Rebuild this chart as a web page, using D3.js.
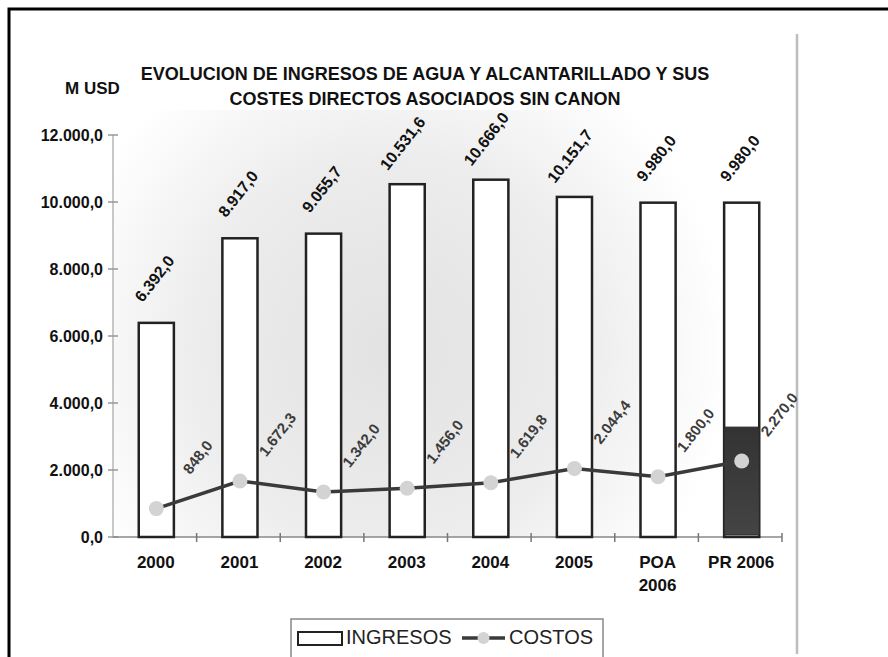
<!DOCTYPE html>
<html><head><meta charset="utf-8">
<script src="https://cdn.jsdelivr.net/npm/d3@7"></script>
<style>body{margin:0;background:#fff;}svg{display:block;}</style>
</head><body>
<svg id="c" width="888" height="657"></svg>
<script>
const categories = ["2000","2001","2002","2003","2004","2005","POA 2006","PR 2006"];
const categoryLines = [["2000"],["2001"],["2002"],["2003"],["2004"],["2005"],["POA","2006"],["PR 2006"]];
const ingresos = [6392.0, 8917.0, 9055.7, 10531.6, 10666.0, 10151.7, 9980.0, 9980.0];
const costos = [848.0, 1672.3, 1342.0, 1456.0, 1619.8, 2044.4, 1800.0, 2270.0];
const highlight = [null, null, null, null, null, null, null, 3280];
const yTicks = [0, 2000, 4000, 6000, 8000, 10000, 12000];
const titleLines = ["EVOLUCION DE INGRESOS DE AGUA Y ALCANTARILLADO Y SUS", "COSTES DIRECTOS ASOCIADOS SIN CANON"];
const unitLabel = "M USD";
const legendLabels = ["INGRESOS", "COSTOS"];

const loc = d3.formatLocale({decimal: ",", thousands: ".", grouping: [3], currency: ["", ""]});
const fmt = loc.format(",.1f");

const svg = d3.select("#c");
const FONT = "'Liberation Sans', Arial, sans-serif";

// background gradient
const defs = svg.append("defs");
const rg = defs.append("radialGradient").attr("id", "bg")
  .attr("gradientUnits", "userSpaceOnUse").attr("cx", 390).attr("cy", 350).attr("r", 340);
rg.append("stop").attr("offset", "0").attr("stop-color", "#e2e2e2");
rg.append("stop").attr("offset", "0.55").attr("stop-color", "#ececec");
rg.append("stop").attr("offset", "1").attr("stop-color", "#ffffff");
const dg = defs.append("linearGradient").attr("id", "dark").attr("x1", 0).attr("x2", 0).attr("y1", 0).attr("y2", 1);
dg.append("stop").attr("offset", "0").attr("stop-color", "#333");
dg.append("stop").attr("offset", "1").attr("stop-color", "#444");

svg.append("rect").attr("x", 113).attr("y", 110).attr("width", 684).attr("height", 427).attr("fill", "url(#bg)");

// outer frame
svg.append("rect").attr("x", 9).attr("y", 9).attr("width", 950).attr("height", 700)
  .attr("fill", "none").attr("stroke", "#000").attr("stroke-width", 3);
// right grey divider
svg.append("line").attr("x1", 797).attr("x2", 797).attr("y1", 34).attr("y2", 654)
  .attr("stroke", "#bdbdbd").attr("stroke-width", 2.5);

const x = d3.scaleBand().domain(categories).range([113, 782]).paddingInner(0.58).paddingOuter(0.29);
const y = d3.scaleLinear().domain([0, 12000]).range([537, 135]);

// Y axis
const yAxis = svg.append("g");
yAxis.append("line").attr("x1", 113).attr("x2", 113).attr("y1", y(12000)).attr("y2", y(0))
  .attr("stroke", "#c8c8c8").attr("stroke-width", 2);
yAxis.selectAll("line.t").data(yTicks).join("line").attr("class", "t")
  .attr("x1", 108).attr("x2", 118).attr("y1", d => y(d)).attr("y2", d => y(d))
  .attr("stroke", "#999").attr("stroke-width", 1.5);
yAxis.selectAll("text").data(yTicks).join("text")
  .attr("x", 103).attr("y", d => y(d)).attr("dy", "0.36em").attr("text-anchor", "end")
  .attr("font-family", FONT).attr("font-weight", "bold").attr("font-size", 16).attr("fill", "#111")
  .text(d => fmt(d));

// X axis
const step = x.step();
const bounds = categories.map((c, i) => 113 + step * (i + 1));
svg.append("line").attr("x1", 113).attr("x2", 782).attr("y1", y(0)).attr("y2", y(0))
  .attr("stroke", "#888").attr("stroke-width", 1.5);
svg.selectAll("line.xt").data(bounds).join("line").attr("class", "xt")
  .attr("x1", d => d).attr("x2", d => d).attr("y1", y(0) - 4).attr("y2", y(0) + 5)
  .attr("stroke", "#777").attr("stroke-width", 1.5);
const xl = svg.selectAll("text.xl").data(categories).join("text").attr("class", "xl")
  .attr("x", d => x(d) + x.bandwidth() / 2 + 1).attr("y", 568)
  .attr("text-anchor", "middle").attr("font-family", FONT).attr("font-weight", "bold")
  .attr("font-size", 17).attr("fill", "#111");
xl.each(function(d, i) {
  d3.select(this).selectAll("tspan").data(categoryLines[i]).join("tspan")
    .attr("x", x(d) + x.bandwidth() / 2 + 1).attr("dy", (t, j) => j === 0 ? 0 : 23).text(t => t);
});

// bars
const bw = x.bandwidth();
svg.selectAll("rect.bar").data(ingresos).join("rect").attr("class", "bar")
  .attr("x", (d, i) => x(categories[i]) + 1.5).attr("y", d => y(d))
  .attr("width", bw).attr("height", d => y(0) - y(d))
  .attr("fill", "#fff").attr("stroke", "#222").attr("stroke-width", 2.5);
svg.selectAll("rect.hl").data(highlight.map((v, i) => ({v, i})).filter(d => d.v != null)).join("rect").attr("class", "hl")
  .attr("x", d => x(categories[d.i]) + 1.5).attr("y", d => y(d.v))
  .attr("width", bw).attr("height", d => y(0) - y(d.v) - 2)
  .attr("fill", "url(#dark)").attr("stroke", "#2a2a2a").attr("stroke-width", 1);

// bar labels
svg.selectAll("text.bl").data(ingresos).join("text").attr("class", "bl")
  .attr("transform", (d, i) => `translate(${x(categories[i]) + 1.5 + bw / 2 + 19},${y(d) - 62}) rotate(-52)`)
  .attr("text-anchor", "end").attr("font-family", FONT).attr("font-weight", "bold")
  .attr("font-size", 16).attr("fill", "#111").text(d => fmt(d));

// line
const cx = i => x(categories[i]) + 1.5 + bw / 2;
const line = d3.line().x((d, i) => cx(i)).y(d => y(d));
svg.append("path").datum(costos).attr("d", line).attr("fill", "none")
  .attr("stroke", "#3a3a3a").attr("stroke-width", 3.5);
svg.selectAll("circle.pt").data(costos).join("circle").attr("class", "pt")
  .attr("cx", (d, i) => cx(i)).attr("cy", d => y(d)).attr("r", 7.5)
  .attr("fill", "#d3d3d3");
svg.selectAll("text.ll").data(costos).join("text").attr("class", "ll")
  .attr("transform", (d, i) => `translate(${cx(i) + 57},${y(d) - 63}) rotate(-52)`)
  .attr("text-anchor", "end").attr("font-family", FONT).attr("font-weight", "bold")
  .attr("font-size", 15).attr("fill", "#3c3c3c").text(d => fmt(d));

// title
svg.selectAll("text.title").data(titleLines).join("text").attr("class", "title")
  .attr("x", 425).attr("y", (d, i) => 80 + i * 25).attr("text-anchor", "middle")
  .attr("font-family", FONT).attr("font-weight", "bold").attr("font-size", 18).attr("fill", "#111")
  .text(d => d);
svg.append("text").attr("x", 65).attr("y", 94).attr("font-family", FONT).attr("font-weight", "bold")
  .attr("font-size", 17).attr("fill", "#111").text(unitLabel);

// legend
const lg = svg.append("g");
lg.append("rect").attr("x", 291).attr("y", 619).attr("width", 312).attr("height", 60)
  .attr("fill", "#fff").attr("stroke", "#888").attr("stroke-width", 1.5);
lg.append("rect").attr("x", 298).attr("y", 632).attr("width", 44).attr("height", 13)
  .attr("fill", "#fff").attr("stroke", "#222").attr("stroke-width", 2);
lg.append("text").attr("x", 346).attr("y", 644).attr("font-family", FONT).attr("font-size", 20)
  .attr("fill", "#222").text(legendLabels[0]);
lg.append("line").attr("x1", 462).attr("x2", 505).attr("y1", 638).attr("y2", 638)
  .attr("stroke", "#3a3a3a").attr("stroke-width", 3.5);
lg.append("circle").attr("cx", 483.5).attr("cy", 638).attr("r", 6).attr("fill", "#d3d3d3");
lg.append("text").attr("x", 509).attr("y", 644).attr("font-family", FONT).attr("font-size", 20)
  .attr("fill", "#222").text(legendLabels[1]);
</script>
</body></html>
